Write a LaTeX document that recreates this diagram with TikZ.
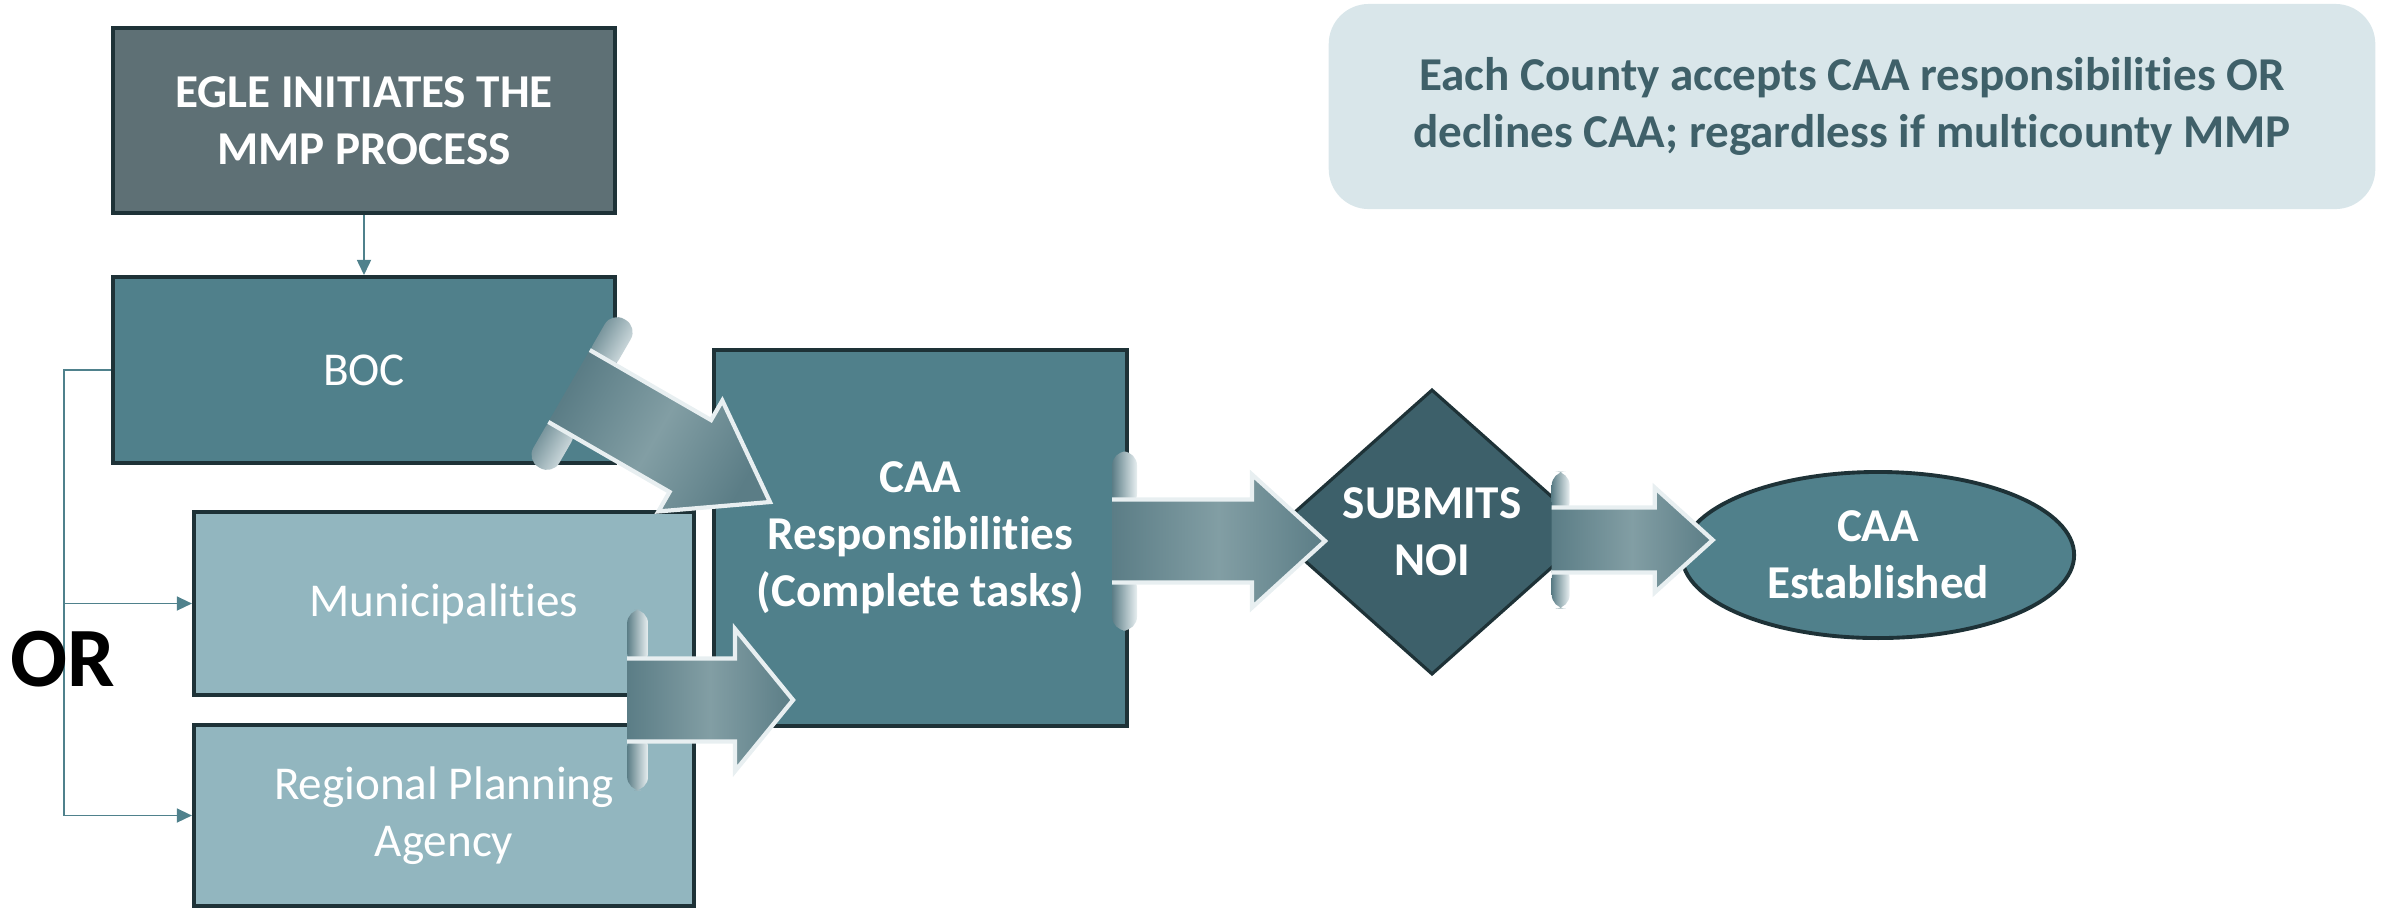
\documentclass[tikz,border=0pt]{standalone}
\usepackage{fontspec}
\setmainfont{Carlito}[Ligatures={NoCommon}]
\usetikzlibrary{shapes.geometric,arrows.meta,calc,positioning}

\definecolor{edgedark}{HTML}{1E3237}
\definecolor{eglefill}{HTML}{5E7075}
\definecolor{tealfill}{HTML}{50808B}
\definecolor{palefill}{HTML}{92B6BF}
\definecolor{noifill}{HTML}{3D606A}
\definecolor{notefill}{HTML}{D9E6EA}
\definecolor{notetext}{HTML}{3F6069}
\definecolor{linkcol}{HTML}{4F818C}
\definecolor{ribdark}{HTML}{5B7D86}
\definecolor{riblight}{HTML}{829EA4}
\definecolor{ribedge}{HTML}{E8EFF1}

\tikzset{
  box/.style={draw=edgedark, line width=1.1pt, inner sep=0pt, align=center,
    text=white, font=\fontsize{13.4}{16.2}\selectfont},
  boldbox/.style={box, font=\fontsize{13.4}{16.2}\selectfont\bfseries},
  link/.style={draw=linkcol, line width=0.45pt, -{Triangle[length=4.3pt,width=4pt]}},
  ribshade/.style={left color=ribdark, right color=ribdark, middle color=riblight},
  flapshade/.style={left color=ribdark, right color=ribedge},
  ribline/.style={draw=ribedge, line width=1.2pt, line join=miter},
}

% tail, angle, band length, band half width, head half width, head length, flap height, flap width
\newcommand{\fatarrow}[8]{%
  \begin{scope}[shift={(#1)}, rotate=#2]
    \path[flapshade, shading angle={90+#2}, rounded corners=4pt] (0,{-#4-#7}) rectangle (#8,{-#4+8});
    \path[flapshade, shading angle={90+#2}, rounded corners=4pt] (0,{#4-8}) rectangle (#8,{#4+#7});
    \path[ribshade, shading angle={90+#2}] (0,-#4) -- (#3,-#4) -- (#3,-#5) -- ({#3+#6},0)
      -- (#3,#5) -- (#3,#4) -- (0,#4) -- cycle;
    \draw[ribline] (0,-#4) -- (#3,-#4) -- (#3,-#5) -- ({#3+#6},0) -- (#3,#5) -- (#3,#4) -- (0,#4);
  \end{scope}}

\begin{document}
\begin{tikzpicture}[x=0.01cm, y=-0.01cm]
  \useasboundingbox (0,0) rectangle (2382,908);

  % left column
  \node[boldbox, fill=eglefill, minimum width=5.02cm, minimum height=1.85cm] (egle) at (364,120.5) {EGLE INITIATES THE\\MMP PROCESS};
  \node[box, fill=tealfill, minimum width=5.02cm, minimum height=1.86cm] (boc) at (364,370) {BOC};
  \node[box, fill=palefill, minimum width=5.0cm, minimum height=1.83cm] (muni) at (444,603.5) {Municipalities};
  \node[box, fill=palefill, minimum width=5.0cm, minimum height=1.81cm] (rpa) at (444,815.5) {Regional Planning\\Agency};

  % middle and right
  \node[boldbox, fill=tealfill, minimum width=4.13cm, minimum height=3.76cm] (caa) at (920.5,538) {CAA\\Responsibilities\\(Complete tasks)};
  \node[boldbox, diamond, aspect=1.12, fill=noifill, line width=0.9pt, minimum width=3.2cm, minimum height=2.85cm] (noi) at (1432,532) {SUBMITS\\NOI};
  \node[boldbox, ellipse, fill=tealfill, minimum width=3.92cm, minimum height=1.66cm] (est) at (1878,555) {CAA\\Established};

  \node[boldbox, draw=none, fill=notefill, text=notetext, rounded corners=0.4cm, minimum width=10.46cm, minimum height=2.05cm] (note) at (1852,106.5) {Each County accepts CAA responsibilities OR\\declines CAA; regardless if multicounty MMP};

  % thin links
  \draw[link] (egle) -- (boc);
  \coordinate (bus) at ($(boc.west)+(-47,0)$);
  \draw[link] (boc.west) -- (bus) |- (rpa.west);
  \draw[link] (bus |- muni.west) -- (muni.west);
  \node[font=\fontsize{24}{24}\selectfont\bfseries, inner sep=0pt] (ortext) at (63,659.5) {OR};

  % ribbon arrows
  \coordinate (t1) at ($(boc.east)+(-48,16)$);
  \fatarrow{t1}{-30}{140}{41.5}{64}{92}{44}{30}
  \coordinate (t2) at ($(muni.south east)+(-69,3)$);
  \fatarrow{t2}{0}{108}{41.5}{71}{58}{49}{21}
  \coordinate (t3) at ($(caa.east)+(-17,3)$);
  \fatarrow{t3}{0}{140}{41.5}{66.5}{73}{48}{25}
  \coordinate (t4) at ($(noi.east)+(-42,8)$);
  \fatarrow{t4}{0}{103}{32.5}{52.5}{58}{36}{18}
\end{tikzpicture}
\end{document}
